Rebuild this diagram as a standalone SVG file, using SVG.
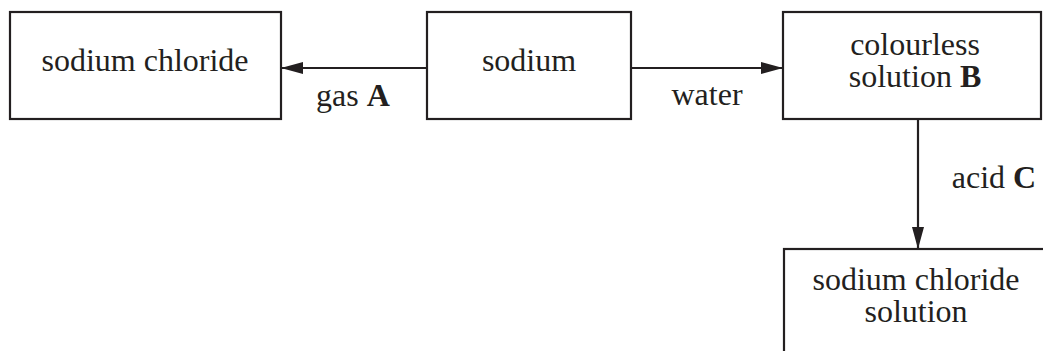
<svg xmlns="http://www.w3.org/2000/svg" width="1043" height="351" viewBox="0 0 1043 351">
  <style>
    .box { fill: #ffffff; stroke: #231f20; stroke-width: 2.2; }
    .link { fill: none; stroke: #231f20; stroke-width: 2.2; }
    text { font-family: "Liberation Serif", "Times New Roman", serif; font-size: 32px; fill: #231f20; }
    .mid { text-anchor: middle; }
    .b { font-weight: bold; }
  </style>
  <defs>
    <marker id="head" markerUnits="userSpaceOnUse" markerWidth="22" markerHeight="12" refX="22" refY="6" orient="auto">
      <path d="M0,0 L22,6 L0,12 z" fill="#231f20"/>
    </marker>
  </defs>

  <rect width="1043" height="351" fill="#ffffff"/>

  <g id="connectors">
    <line class="link" x1="427" y1="68" x2="281" y2="68" marker-end="url(#head)"/>
    <line class="link" x1="631" y1="68" x2="783" y2="68" marker-end="url(#head)"/>
    <line class="link" x1="918" y1="119" x2="918" y2="249" marker-end="url(#head)"/>
    <text x="353" y="106" class="mid">gas <tspan class="b">A</tspan></text>
    <text x="707" y="105" class="mid">water</text>
    <text x="994" y="188" class="mid">acid <tspan class="b">C</tspan></text>
  </g>

  <g id="sodium-chloride">
    <rect class="box" x="10" y="12" width="271" height="107"/>
    <text x="145" y="71" class="mid">sodium chloride</text>
  </g>

  <g id="sodium">
    <rect class="box" x="427" y="12" width="204" height="107"/>
    <text x="529" y="71" class="mid">sodium</text>
  </g>

  <g id="solution-b">
    <rect class="box" x="783" y="12" width="258" height="107"/>
    <text x="915" y="55" class="mid">colourless</text>
    <text x="915" y="87" class="mid">solution <tspan class="b">B</tspan></text>
  </g>

  <g id="sodium-chloride-solution">
    <rect class="box" x="784" y="249" width="300" height="140"/>
    <text x="916" y="290" class="mid">sodium chloride</text>
    <text x="916" y="322" class="mid">solution</text>
  </g>
</svg>
